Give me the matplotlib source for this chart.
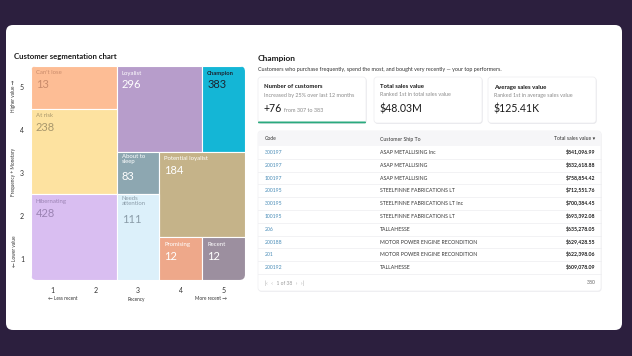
import matplotlib
matplotlib.use("Agg")
import matplotlib.pyplot as plt
from matplotlib.patches import Rectangle, FancyBboxPatch

plt.rcParams['font.family'] = ['Lato', 'DejaVu Sans']

# ---------------- data ----------------
seg_names = ["Can't lose", "Loyalist", "Champion", "At risk", "About to\nsleep",
             "Potential loyalist", "Hibernating", "Needs\nattention", "Promising", "Recent"]
seg_counts = [13, 296, 383, 238, 83, 184, 428, 111, 12, 12]
seg_recency = [(1, 2), (3, 4), (5, 5), (1, 2), (3, 3), (4, 5), (1, 2), (3, 3), (4, 4), (5, 5)]
seg_freq = [(5, 5), (4, 5), (4, 5), (3, 4), (3, 3), (2, 3), (1, 2), (1, 2), (1, 1), (1, 1)]
seg_colors = ["#FDBD95", "#B79DCB", "#14B6D6", "#FDE2A0", "#8DA7B1",
              "#C5B389", "#D9BEF1", "#DCF0FA", "#EEA88A", "#9C8F9F"]
seg_text_colors = ["#C98B6B", "#FFFFFF", "#1B2633", "#A8976C", "#FFFFFF",
                   "#FFFFFF", "#9B83B3", "#8A9CA8", "#FFFFFF", "#FFFFFF"]
x_ticks = [1, 2, 3, 4, 5]
y_ticks = [1, 2, 3, 4, 5]

card_titles = ["Number of customers", "Total sales value", "Average sales value"]
card_subs = ["Increased by 25% over last 12 months", "Ranked 1st in total sales value",
             "Ranked 1st in average sales value"]
card_values = ["+76", "$48.03M", "$125.41K"]
card_extra = ["from 307 to 383", "", ""]

codes = ['300197', '200197', '100197', '200195', '300195', '100195', '206', '200188', '201', '200192']
names = ['ASAP METALLISING Inc', 'ASAP METALLISING', 'ASAP METALLISING', 'STEELFINNE FABRICATIONS LT',
         'STEELFINNE FABRICATIONS LT Inc', 'STEELFINNE FABRICATIONS LT', 'TALLAHESSE',
         'MOTOR POWER ENGINE RECONDITION', 'MOTOR POWER ENGINE RECONDITION', 'TALLAHESSE']
sales = [841096.99, 832618.88, 758854.42, 712551.76, 700384.45, 693392.08,
         635278.05, 629428.55, 622398.06, 609078.09]
total_rows = 380
pages = 38

# ---------------- figure ----------------
W, H = 632, 356
fig = plt.figure(figsize=(W / 100, H / 100), dpi=100)
fig.patch.set_facecolor("#2C1F3E")

bg = fig.add_axes([0, 0, 1, 1])
bg.set_xlim(0, W)
bg.set_ylim(H, 0)
bg.axis("off")

# white card
bg.add_patch(FancyBboxPatch((6, 25), 616, 305, boxstyle="round,pad=0,rounding_size=7",
                            fc="white", ec="none"))

# left title
bg.text(14, 57, "Customer segmentation chart", fontsize=5.6, fontweight="bold",
        color="#1A1A1A", va="center")

# axis labels
bg.text(14, 96, "Higher value →", rotation=90, fontsize=3.4, color="#333333", ha="center", va="center")
bg.text(14, 172, "Frequency + Monetary", rotation=90, fontsize=3.4, color="#333333", ha="center", va="center")
bg.text(14, 251, "← Lower value", rotation=90, fontsize=3.4, color="#333333", ha="center", va="center")
bg.text(63, 299, "← Less recent", fontsize=3.4, color="#333333", ha="center", va="center")
bg.text(136, 299, "Recency", fontsize=3.4, color="#333333", ha="center", va="center")
bg.text(211, 299, "More recent →", fontsize=3.4, color="#333333", ha="center", va="center")

# ---------------- treemap ----------------
L, R, T, B = 31, 245, 66, 280
tm = fig.add_axes([L / W, (H - B) / H, (R - L) / W, (B - T) / H])
tm.set_xlim(0.5, 5.5)
tm.set_ylim(0.5, 5.5)
tm.patch.set_alpha(0)
for s in tm.spines.values():
    s.set_visible(False)
tm.set_xticks(x_ticks)
tm.set_yticks(y_ticks)
tm.tick_params(length=0, labelsize=5, labelcolor="#333333", pad=5)
clip = FancyBboxPatch((0.5, 0.5), 5, 5, boxstyle="round,pad=0,rounding_size=0.13",
                      fc="none", ec="none", transform=tm.transData)
tm.add_patch(clip)
cell_px = (R - L) / 5.0
for name, cnt, rx, fy, col, tc in zip(seg_names, seg_counts, seg_recency, seg_freq,
                                      seg_colors, seg_text_colors):
    x0, x1 = rx[0] - 0.5, rx[1] + 0.5
    y0, y1 = fy[0] - 0.5, fy[1] + 0.5
    r = Rectangle((x0, y0), x1 - x0, y1 - y0, fc=col, ec="white", lw=0.8)
    tm.add_patch(r)
    r.set_clip_path(clip)
    tx = x0 + 5 / cell_px
    ty = y1 - 7 / cell_px
    bold = name == "Champion"
    tm.text(tx, ty, name, fontsize=4.3, color=tc, va="center", ha="left",
            fontweight="bold" if bold else "normal", linespacing=0.95)
    nlines = name.count("\n")
    tm.text(tx, ty - (12 + 6 * nlines) / cell_px, str(cnt), fontsize=8, color=tc,
            va="center", ha="left")

# ---------------- right panel ----------------
bg.text(258, 58, "Champion", fontsize=6, fontweight="bold", color="#1A1A1A", va="center")
bg.text(258, 69, "Customers who purchase frequently, spend the most, and bought very recently — your top performers.",
        fontsize=3.9, color="#333333", va="center")

card_x = [258, 374, 488]
card_w = 108
for i, (cx, t, s, v, e) in enumerate(zip(card_x, card_titles, card_subs, card_values, card_extra)):
    bg.add_patch(FancyBboxPatch((cx + 0.6, 77.8), card_w, 46, boxstyle="round,pad=0,rounding_size=3",
                                fc="#E6E6EA", ec="none"))
    bg.add_patch(FancyBboxPatch((cx, 77), card_w, 46, boxstyle="round,pad=0,rounding_size=3",
                                fc="white", ec="#ECECEF", lw=0.5))
    bg.text(cx + 6, 87, t, fontsize=4.3, fontweight="bold", color="#1A1A1A", va="center")
    bg.text(cx + 6, 95, s, fontsize=3.9, color="#8A8A8A", va="center")
    bg.text(cx + 6, 112.5, v, fontsize=7.6, color="#1A1A1A", va="baseline")
    if e:
        bg.text(cx + 26, 112.5, e, fontsize=3.9, color="#8A8A8A", va="baseline")
    if i == 0:
        bg.add_patch(FancyBboxPatch((cx, 121.5), card_w, 1.8, boxstyle="round,pad=0,rounding_size=0.9",
                                    fc="#2BAA7E", ec="none"))

# table
tx0, tx1 = 258, 601
ty0, ty1 = 131, 291
bg.add_patch(FancyBboxPatch((tx0 + 0.5, ty0 + 0.8), tx1 - tx0, ty1 - ty0,
                            boxstyle="round,pad=0,rounding_size=3", fc="#EEEEF1", ec="none"))
bg.add_patch(FancyBboxPatch((tx0, ty0), tx1 - tx0, ty1 - ty0,
                            boxstyle="round,pad=0,rounding_size=3", fc="white", ec="#EEEEF1", lw=0.5))
head_h = 15
bg.add_patch(FancyBboxPatch((tx0, ty0), tx1 - tx0, head_h,
                            boxstyle="round,pad=0,rounding_size=3", fc="#F6F6F8", ec="none"))
bg.add_patch(Rectangle((tx0, ty0 + head_h - 4), tx1 - tx0, 4, fc="#F6F6F8", ec="none"))
hy = ty0 + head_h / 2 + 0.5
col_code, col_name, col_val = 265, 380, 595
bg.text(col_code, hy, "Code", fontsize=3.7, color="#333333", va="center")
bg.text(col_name, hy, "Customer Ship To", fontsize=3.7, color="#333333", va="center")
bg.text(col_val, hy, "Total sales value ▾", fontsize=3.7, color="#333333", va="center", ha="right")

row_h = 12.8
row_top = ty0 + head_h
for i, (c, n, v) in enumerate(zip(codes, names, sales)):
    yc = row_top + row_h * (i + 0.5)
    bg.text(col_code, yc, c, fontsize=3.7, color="#4A8DB8", va="center")
    bg.text(col_name, yc, n, fontsize=3.7, color="#333333", va="center")
    bg.text(col_val, yc, f"${v:,.2f}", fontsize=3.7, color="#1A1A1A", va="center", ha="right",
            fontweight="bold")
    bg.plot([tx0, tx1], [row_top + row_h * (i + 1)] * 2, color="#EDEDF0", lw=0.5)

fy = row_top + row_h * len(codes) + 9
bg.text(col_code, fy, f"|‹   ‹   1 of {pages}   ›   ›|", fontsize=3.5, color="#9A9A9A", va="center",
        family=['Lato', 'DejaVu Sans'])
bg.text(col_val + 1, fy, str(total_rows), fontsize=3.7, color="#666666", va="center", ha="right")

fig.savefig("out.png", dpi=100, facecolor=fig.get_facecolor())
